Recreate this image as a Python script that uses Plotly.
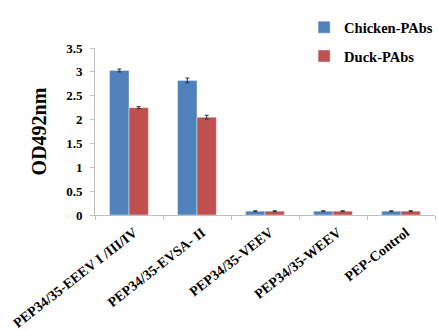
import plotly.graph_objects as go

# ELISA reactivity of peptide antigens against two polyclonal antisera
categories = ["PEP34/35-EEEV I /III/IV", "PEP34/35-EVSA- II", "PEP34/35-VEEV",
              "PEP34/35-WEEV", "PEP-Control"]
chicken = [3.03, 2.82, 0.08, 0.08, 0.08]
chicken_err = [0.03, 0.05, 0.01, 0.01, 0.01]
duck = [2.25, 2.05, 0.08, 0.08, 0.08]
duck_err = [0.02, 0.04, 0.01, 0.01, 0.01]
y_ticks = [0, 0.5, 1, 1.5, 2, 2.5, 3, 3.5]
y_ticklabels = ["0", "0.5", "1", "1.5", "2", "2.5", "3", "3.5"]

serif = "Times New Roman"
err_style = dict(type="data", thickness=1, width=2, color="#333333")

fig = go.Figure()
fig.add_trace(go.Bar(
    x=categories, y=chicken, name="Chicken-PAbs", marker_color="#4F81BD",
    error_y=dict(array=chicken_err, **err_style), legendgroup="a"))
fig.add_trace(go.Bar(
    x=categories, y=duck, name="Duck-PAbs", marker_color="#C0504D",
    error_y=dict(array=duck_err, **err_style), legendgroup="b"))

fig.update_layout(
    width=438, height=330,
    margin=dict(l=95, r=3, t=48, b=115, autoexpand=False),
    paper_bgcolor="white", plot_bgcolor="white",
    barmode="group", bargap=0.43, bargroupgap=0,
    font=dict(family=serif, color="black"),
    legend=dict(
        x=0.615, y=1.22, xanchor="left", yanchor="top",
        font=dict(family=serif, size=14.5, color="black", weight="bold"),
        tracegroupgap=7, bgcolor="rgba(0,0,0,0)",
    ),
)
fig.update_xaxes(
    showline=True, linecolor="#BFBFBF", linewidth=1, automargin=False,
    ticks="outside", tickson="boundaries", ticklen=4, tickcolor="#BFBFBF",
    tickangle=-38, showgrid=False, ticklabelshift=5, ticklabelstandoff=3,
    tickfont=dict(family=serif, size=14, color="black", weight="bold"),
)
fig.update_yaxes(
    range=[0, 3.5], tickvals=y_ticks, ticktext=y_ticklabels, automargin=False,
    showline=True, linecolor="#BFBFBF", linewidth=1,
    ticks="outside", ticklen=4, tickcolor="#BFBFBF", showgrid=False,
    zeroline=False, ticklabelstandoff=5,
    tickfont=dict(family=serif, size=13, color="black", weight="bold"),
    title=dict(text="OD492nm", standoff=14,
               font=dict(family=serif, size=20, color="black", weight="bold")),
)

fig.write_html("out.html")
